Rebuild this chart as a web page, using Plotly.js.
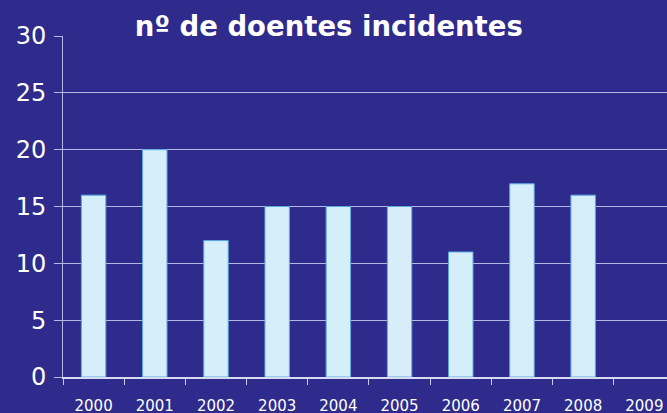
<!DOCTYPE html>
<html><head><meta charset="utf-8">
<script src="https://cdn.plot.ly/plotly-3.0.1.min.js"></script>
<style>html,body{margin:0;padding:0;background:#2e2b8c;}#chart{width:667px;height:413px;}</style>
</head><body><div id="chart"></div>
<script>
const years = ["2000","2001","2002","2003","2004","2005","2006","2007","2008","2009"];
const patients = [16, 20, 12, 15, 15, 15, 11, 17, 16, null];
const titleText = "nº de doentes incidentes";
const yTicks = [0, 5, 10, 15, 20, 25, 30];

const trace = {
  type: "bar",
  x: years,
  y: patients,
  marker: {color: "#d5eef9", line: {color: "#5aa8e0", width: 1}},
  hoverinfo: "x+y"
};
const layout = {
  width: 667, height: 413,
  margin: {l: 63, r: 0, t: 36, b: 36},
  paper_bgcolor: "#2e2b8c",
  plot_bgcolor: "#2e2b8c",
  bargap: 0.6,
  showlegend: false,
  title: {text: "<b>" + titleText + "</b>", x: 0.493, xanchor: "center", y: 0.935, yanchor: "middle",
          font: {family: "DejaVu Sans", size: 27.5, color: "#ffffff"}},
  xaxis: {type: "category", range: [-0.5, 9.37], tickson: "boundaries", ticks: "outside", ticklen: 6,
          tickcolor: "#c8cce8", showline: true, linecolor: "#d8dcf0", linewidth: 1.5, showgrid: false,
          ticklabelstandoff: 14,
          tickfont: {family: "DejaVu Sans", size: 15, color: "#ffffff"}},
  yaxis: {range: [0, 30], tickvals: yTicks, ticks: "outside", ticklen: 8, tickcolor: "#b4b8e4",
          showgrid: true, gridcolor: "#b4b8e4", gridwidth: 1, zeroline: false,
          showline: true, linecolor: "#b4b8e4", linewidth: 1, ticklabelstandoff: 3,
          tickfont: {family: "DejaVu Sans", size: 24, color: "#ffffff"}}
};
Plotly.newPlot("chart", [trace], layout, {displayModeBar: false, staticPlot: true});
</script></body></html>
